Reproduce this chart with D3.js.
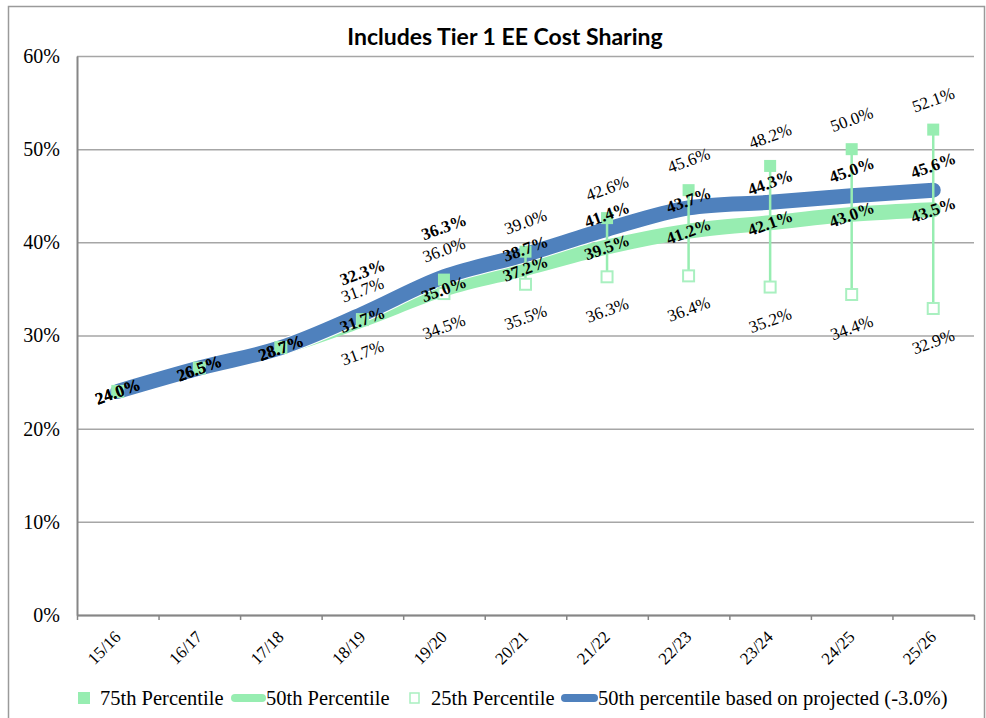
<!DOCTYPE html>
<html>
<head>
<meta charset="utf-8">
<script src="https://cdn.jsdelivr.net/npm/d3@7/dist/d3.min.js"></script>
<style>
  html, body { margin: 0; padding: 0; background: #fff; }
  svg { display: block; }
  .serif { font-family: "Liberation Serif", "Tinos", "DejaVu Serif", serif; }
  .title { font-family: Lato, "Liberation Sans", sans-serif; }
</style>
</head>
<body>
<svg id="chart" width="986" height="718"></svg>
<script>
// Plan years
const categories = ["15/16", "16/17", "17/18", "18/19", "19/20", "20/21", "21/22", "22/23", "23/24", "24/25", "25/26"];
// Employee cost-sharing share, in percent
const p75 = [24.0, 26.5, 28.7, 31.7, 36.0, 39.0, 42.6, 45.6, 48.2, 50.0, 52.1];
const p50 = [24.0, 26.5, 28.7, 31.7, 35.0, 37.2, 39.5, 41.2, 42.1, 43.0, 43.5];
const p25 = [24.0, 26.5, 28.7, 31.7, 34.5, 35.5, 36.3, 36.4, 35.2, 34.4, 32.9];
const projected = [24.0, 26.5, 28.7, 32.3, 36.3, 38.7, 41.4, 43.7, 44.3, 45.0, 45.6];
const yTicks = [0, 10, 20, 30, 40, 50, 60];
const seriesNames = ["75th Percentile", "50th Percentile", "25th Percentile", "50th percentile based on projected (-3.0%)"];
const title = "Includes Tier 1 EE Cost Sharing";

// First year that carries 75th / 25th value labels
const rangeLabelStart = 3;

const GREEN = "#97edb1";
const GREEN_LIGHT = "#a9f0c0";
const BLUE = "#4f81bd";
const GRID = "#a6a6a6";
const AXIS = "#868686";

const svg = d3.select("#chart");

// outer chart frame
svg.append("rect")
  .attr("x", 8.5).attr("y", 6.5).attr("width", 976).attr("height", 730)
  .attr("fill", "#fff").attr("stroke", "#9a9a9a").attr("stroke-width", 1.5);

const plot = { left: 77, right: 974, top: 56, bottom: 615 };

const x = d3.scaleBand().domain(categories).range([plot.left, plot.right]);
const cx = c => x(c) + x.bandwidth() / 2;
const y = d3.scaleLinear().domain([0, 60]).range([plot.bottom, plot.top]);

// title
svg.append("text")
  .attr("class", "title")
  .attr("x", 505).attr("y", 45)
  .attr("text-anchor", "middle")
  .attr("font-weight", "bold")
  .attr("font-size", 23)
  .attr("fill", "#000")
  .text(title);

// horizontal gridlines
const grid = svg.append("g")
  .attr("transform", `translate(${plot.left},0)`)
  .call(d3.axisLeft(y).tickValues(yTicks).tickSize(-(plot.right - plot.left)).tickFormat(""));
grid.select(".domain").remove();
grid.selectAll("line").attr("stroke", GRID).attr("stroke-width", 1.5);

// y axis labels
const yAxis = svg.append("g")
  .attr("transform", `translate(${plot.left},0)`)
  .call(d3.axisLeft(y).tickValues(yTicks).tickSize(0).tickPadding(17).tickFormat(d => d + "%"));
yAxis.attr("font-family", null);
yAxis.select(".domain").attr("stroke", AXIS).attr("stroke-width", 2);
yAxis.selectAll("text")
  .attr("class", "serif").attr("font-size", 20).attr("fill", "#000");

// x axis: ticks sit on the category boundaries
const xb = d3.scaleLinear().domain([0, categories.length]).range([plot.left, plot.right]);
const xAxis = svg.append("g")
  .attr("transform", `translate(0,${plot.bottom})`)
  .call(d3.axisBottom(xb).tickValues(d3.range(categories.length + 1)).tickSize(5).tickSizeOuter(0).tickFormat(""));
xAxis.select(".domain").attr("stroke", AXIS).attr("stroke-width", 2);
xAxis.selectAll("line").attr("stroke", AXIS).attr("stroke-width", 1.5);

svg.append("g").selectAll("text")
  .data(categories).join("text")
  .attr("class", "serif")
  .attr("transform", d => `translate(${cx(d) + 4},${plot.bottom + 23}) rotate(-45)`)
  .attr("text-anchor", "end")
  .attr("font-size", 17).attr("fill", "#000")
  .text(d => d);

// lines
const line = d3.line()
  .x((d, i) => cx(categories[i]))
  .y(d => y(d))
  .curve(d3.curveCatmullRom.alpha(0.5));

svg.append("path").attr("d", line(p50))
  .attr("fill", "none").attr("stroke", GREEN).attr("stroke-width", 15)
  .attr("stroke-linecap", "round").attr("stroke-linejoin", "round");

svg.append("path").attr("d", line(projected))
  .attr("fill", "none").attr("stroke", "#fff").attr("stroke-width", 17)
  .attr("stroke-linecap", "round").attr("stroke-linejoin", "round");
svg.append("path").attr("d", line(projected))
  .attr("fill", "none").attr("stroke", BLUE).attr("stroke-width", 15)
  .attr("stroke-linecap", "round").attr("stroke-linejoin", "round");

// high-low lines between 75th and 25th
svg.append("g").selectAll("line")
  .data(categories).join("line")
  .attr("x1", d => cx(d)).attr("x2", d => cx(d))
  .attr("y1", (d, i) => y(p75[i])).attr("y2", (d, i) => y(p25[i]))
  .attr("stroke", GREEN).attr("stroke-width", 2.5);

// 25th percentile: hollow squares
svg.append("g").selectAll("rect")
  .data(categories).join("rect")
  .attr("x", d => cx(d) - 5.5).attr("y", (d, i) => y(p25[i]) - 5.5)
  .attr("width", 11).attr("height", 11)
  .attr("fill", "#fff").attr("stroke", GREEN_LIGHT).attr("stroke-width", 2);

// 75th percentile: filled squares
svg.append("g").selectAll("rect")
  .data(categories).join("rect")
  .attr("x", d => cx(d) - 6).attr("y", (d, i) => y(p75[i]) - 6)
  .attr("width", 12).attr("height", 12)
  .attr("fill", GREEN);

// value labels
const fmt = v => v.toFixed(1) + "%";
// vertical nudges for the projected labels, in px from the point
const projectedLabelDy = [0, 0, 0, -42, -50, -6, -15, -8, -20, -26, -25];

function labels(values, dyFn, bold, from) {
  svg.append("g").selectAll("text")
    .data(values.map((v, i) => ({ v, i })).filter(d => d.i >= from)).join("text")
    .attr("class", "serif")
    .attr("transform", d => `translate(${cx(categories[d.i])},${y(d.v) + dyFn(d.i)}) rotate(-20)`)
    .attr("text-anchor", "middle")
    .attr("dy", "0.35em")
    .attr("font-size", 17)
    .attr("font-weight", bold ? "bold" : "normal")
    .attr("fill", "#000")
    .text(d => fmt(d.v));
}
labels(p75, () => -30, false, rangeLabelStart);
labels(p25, () => 33, false, rangeLabelStart);
labels(p50, () => 0, true, 0);
labels(projected, i => projectedLabelDy[i], true, 0);

// legend
const leg = svg.append("g").attr("class", "serif").attr("font-size", 20.5).attr("fill", "#000");
const legY = 698;
leg.append("rect").attr("x", 78).attr("y", legY - 6).attr("width", 12).attr("height", 12).attr("fill", GREEN);
leg.append("text").attr("x", 100).attr("y", legY + 7).text(seriesNames[0]);
leg.append("line").attr("x1", 235).attr("x2", 262).attr("y1", legY).attr("y2", legY)
  .attr("stroke", GREEN).attr("stroke-width", 8).attr("stroke-linecap", "round");
leg.append("text").attr("x", 266).attr("y", legY + 7).text(seriesNames[1]);
leg.append("rect").attr("x", 410).attr("y", legY - 5).attr("width", 9).attr("height", 10)
  .attr("fill", "#fff").attr("stroke", GREEN_LIGHT).attr("stroke-width", 1.5);
leg.append("text").attr("x", 431).attr("y", legY + 7).text(seriesNames[2]);
leg.append("line").attr("x1", 565).attr("x2", 594).attr("y1", legY).attr("y2", legY)
  .attr("stroke", BLUE).attr("stroke-width", 8).attr("stroke-linecap", "round");
leg.append("text").attr("x", 598).attr("y", legY + 7).text(seriesNames[3]);
</script>
</body>
</html>
